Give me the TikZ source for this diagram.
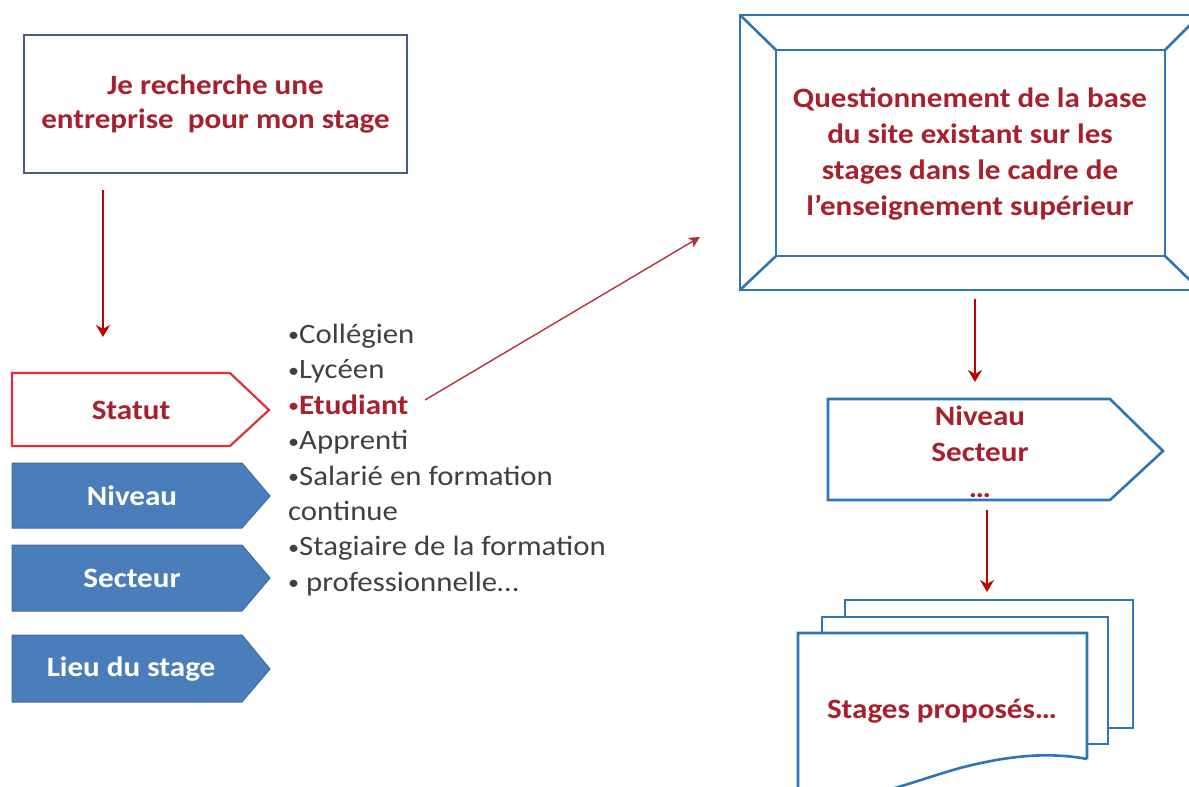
\documentclass[tikz,border=0pt]{standalone}
\usepackage{fontspec}
\usepackage{graphicx}
\setmainfont{Carlito}[FakeStretch=1.1]
\newfontfamily\wideb{Carlito}[FakeStretch=1.11]
\usetikzlibrary{arrows.meta}
\definecolor{txtred}{HTML}{A8202C}
\definecolor{arrred}{HTML}{C00000}
\definecolor{thinred}{HTML}{B8303C}
\definecolor{lineblue}{HTML}{2E75B6}
\definecolor{fillblue}{HTML}{4A7EBB}
\definecolor{boxgray}{HTML}{4A5A80}
\definecolor{statred}{HTML}{E0303C}
\definecolor{bullgray}{HTML}{404040}
\newcommand{\bul}{\raisebox{0.06em}{\scalebox{0.72}{•}}}
\begin{document}
\begin{tikzpicture}[x=1pt,y=-1pt,
  boxtext/.style={font=\wideb\bfseries\fontsize{28}{34}\selectfont, text=txtred, align=center, inner sep=0pt},
  whitetext/.style={font=\wideb\bfseries\fontsize{28}{34}\selectfont, text=white, inner sep=0pt},
  arr/.style={draw=arrred, line width=2.2pt, -{Stealth[length=12pt,width=14pt,inset=4pt]}},
  thinarr/.style={draw=thinred, line width=1.4pt, -{Stealth[length=11pt,width=11pt,inset=3pt]}},
  bluepent/.style={fill=fillblue, draw=fillblue!85!black, line width=1pt},
  page/.style={draw=lineblue, line width=2.6pt, fill=white}]
\useasboundingbox (0,0) rectangle (1189,787);
\clip (0,0) rectangle (1189,787);

% top box
\node[boxtext, draw=boxgray, line width=2.4pt, minimum width=383pt, minimum height=138pt] (top) at (215.5,104) {Je recherche une\\entreprise\ \ pour mon stage};
\coordinate (a1s) at (103,190);
\coordinate (a1e) at (103,337);
\draw[arr] (a1s) -- (a1e);

% left pentagons
\draw[draw=statred, line width=2.2pt, fill=white] (12,373) -- (230,373) -- (269,410) -- (230,446) -- (12,446) -- cycle;
\node[boxtext] (statut) at (131,410) {Statut};
\draw[bluepent] (12,463) -- (242,463) -- (270,496) -- (242,528) -- (12,528) -- cycle;
\node[whitetext] (niveau) at (132,496) {Niveau};
\draw[bluepent] (12,545) -- (242,545) -- (270,578) -- (242,611) -- (12,611) -- cycle;
\node[whitetext] (secteur) at (132,578) {Secteur};
\draw[bluepent] (12,635) -- (242,635) -- (270,669) -- (242,702) -- (12,702) -- cycle;
\node[whitetext] (lieu) at (131,669) {Lieu du stage};

% bullet list
\node[font=\fontsize{28}{35.4}\selectfont, text=bullgray, align=left, inner sep=0pt, anchor=west] (list) at (288,460)
 {\bul Collégien\\\bul Lycéen\\\textcolor{txtred}{\bul\wideb\bfseries Etudiant}\\\bul Apprenti\\\bul Salarié en formation\\continue\\\bul Stagiaire de la formation\\\bul\ professionnelle…};
\coordinate (etud) at (425,400);
\coordinate (qin) at (700,237);
\draw[thinarr] (etud) -- (qin);

% bevel box
\draw[lineblue, line width=2.6pt] (740,15) rectangle (1200,290);
\draw[lineblue, line width=2.6pt] (776,50) rectangle (1165,256);
\draw[lineblue, line width=2.6pt] (740,15) -- (776,50) (1200,15) -- (1165,50) (740,290) -- (776,256) (1200,290) -- (1165,256);
\node[boxtext, font=\wideb\bfseries\fontsize{28}{36}\selectfont] (quest) at (970,154) {Questionnement de la base\\du site existant sur les\\stages dans le cadre de\\l’enseignement supérieur};
\coordinate (a2s) at (975,299);
\coordinate (a2e) at (975,382);
\draw[arr] (a2s) -- (a2e);

% right pentagon
\draw[draw=lineblue, line width=2.6pt, fill=white] (828,399) -- (1110,399) -- (1163,451) -- (1110,500) -- (828,500) -- cycle;
\node[boxtext, font=\wideb\bfseries\fontsize{28}{36}\selectfont] (crit) at (980,452) {Niveau\\Secteur\\…};
\coordinate (a3s) at (987,510);
\coordinate (a3e) at (987,592);
\draw[arr] (a3s) -- (a3e);

% multidocument
\draw[page] (845,600) rectangle (1133,728);
\draw[page] (822,617) rectangle (1108,744);
\draw[page] (1087,759) -- (1087,633) -- (798,633) -- (798,800) .. controls (860,805) and (900,785) .. (960,768) .. controls (1010,755) and (1050,752) .. (1087,759);
\node[boxtext] (stages) at (942,711) {Stages proposés…};
\end{tikzpicture}
\end{document}
